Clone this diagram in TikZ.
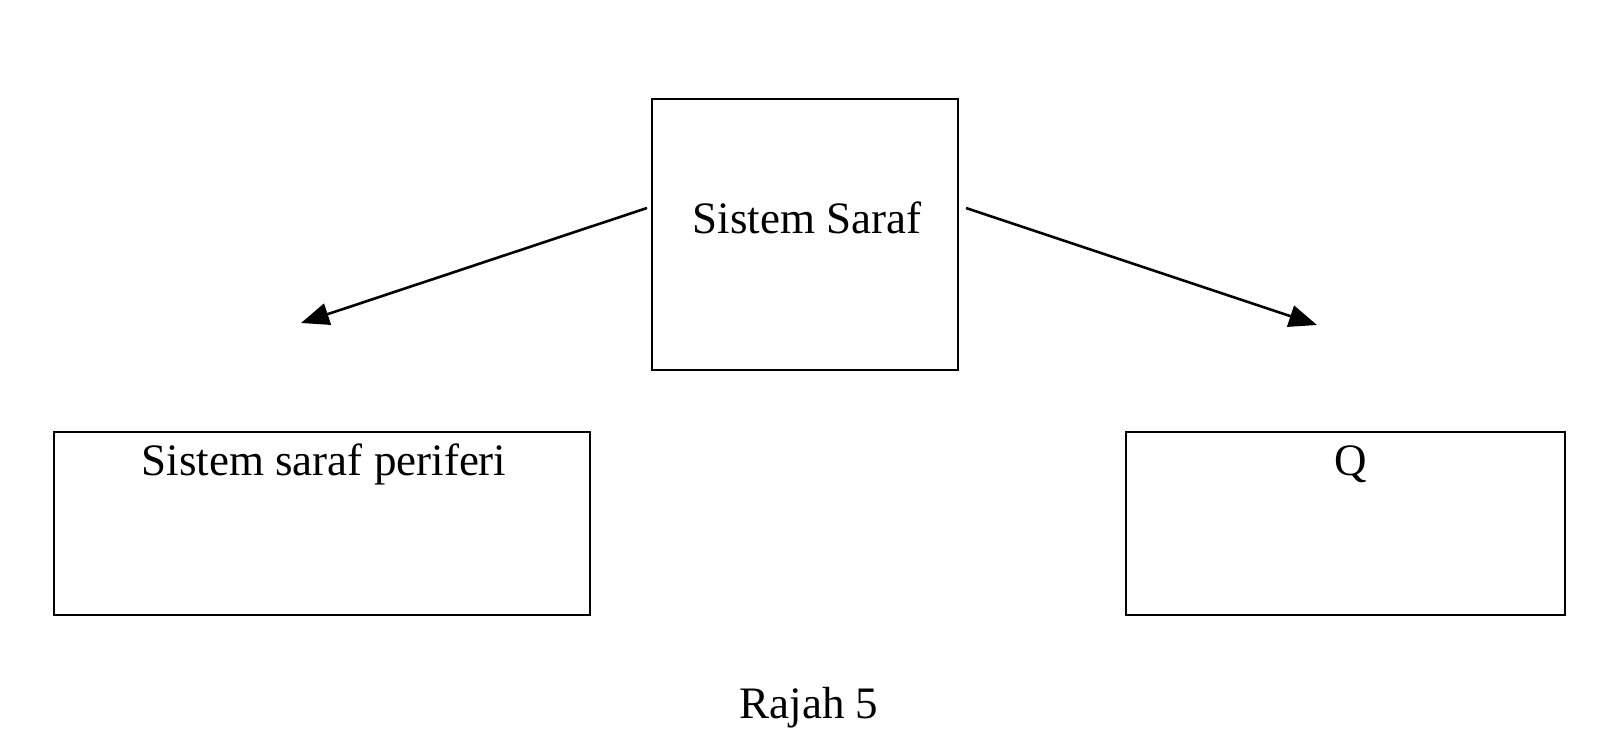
\documentclass[tikz,border=0pt]{standalone}
\usepackage{fontspec}
\setmainfont{Liberation Serif}
\usetikzlibrary{arrows.meta}
\begin{document}
\begin{tikzpicture}[x=1pt,y=-1pt,
  box/.style={draw,line width=1.6pt},
  lbl/.style={font=\fontsize{45}{50}\selectfont,inner sep=0pt},
  arr/.style={line width=2.6pt,-{Triangle[length=28pt,width=22pt]}}]
\useasboundingbox (0,0) rectangle (1606,739);
\draw[box] (652,99) rectangle (958,370);
\draw[box] (54,432) rectangle (590,615);
\draw[box] (1126,432) rectangle (1565,615);
\node[lbl] (top) at (807,218) {Sistem Saraf};
\node[lbl] (left) at (324,464) {Sistem saraf periferi};
\node[lbl] (right) at (1351,464) {Q};
\node[lbl] (cap) at (809,708) {Rajah 5};
\coordinate (la) at (647,208);
\coordinate (lb) at (301,323);
\coordinate (ra) at (966,208);
\coordinate (rb) at (1317,325);
\draw[arr] (la) -- (lb);
\draw[arr] (ra) -- (rb);
\end{tikzpicture}
\end{document}
